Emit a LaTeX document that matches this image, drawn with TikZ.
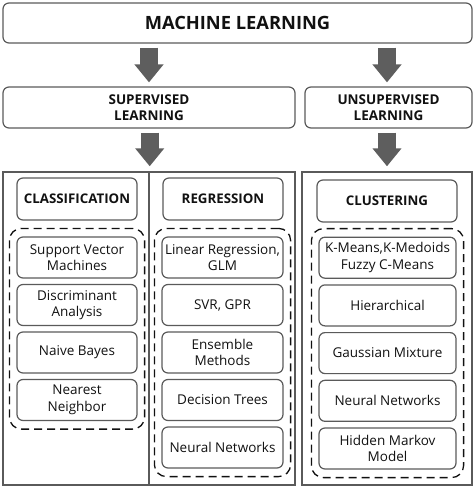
\documentclass[tikz,border=0pt]{standalone}
\usepackage{fontspec}
\setmainfont{Open Sans}
\usetikzlibrary{arrows.meta,fit}
\definecolor{linegray}{HTML}{5A5A5A}
\definecolor{arrowgray}{HTML}{5E5E5E}
\definecolor{textblack}{HTML}{111111}
\newcommand{\itemfont}{\fontsize{13.5}{16.5}\selectfont}

\tikzset{
  box/.style={draw=linegray, line width=1.2pt, rounded corners=6pt,
    align=center, inner sep=0pt, text=textblack},
  itembox/.style={box, minimum height=41pt, font=\itemfont},
  headbox/.style={box, minimum height=42pt, font=\fontsize{13.3}{16}\selectfont\bfseries},
  panel/.style={draw=linegray, line width=1.4pt, inner sep=0pt, minimum height=313pt},
  dashbox/.style={draw=textblack, line width=1.3pt, dash pattern=on 8pt off 5pt,
    rounded corners=12pt, inner xsep=7pt, inner ysep=8pt},
  bigarrow/.style={arrowgray, line width=18pt,
    -{Triangle[length=18pt,width=28pt]}, shorten <=4pt, shorten >=4pt}
}

\begin{document}
\begin{tikzpicture}[x=1pt,y=-1pt]
  \useasboundingbox (0,0) rectangle (474,487);

  % top levels
  \node[box, minimum width=469pt, minimum height=40pt,
    font=\fontsize{18.3}{20}\selectfont\bfseries] (ml) at (237.5,23) {MACHINE LEARNING};
  \node[box, minimum width=292pt, minimum height=41pt,
    font=\fontsize{13.5}{16.5}\selectfont\bfseries] (sup) at (149,107.5) {SUPERVISED\\LEARNING};
  \node[box, minimum width=167pt, minimum height=41pt,
    font=\fontsize{13.5}{16.5}\selectfont\bfseries] (unsup) at (388.5,107.5) {UNSUPERVISED\\LEARNING};

  % panels
  \node[panel, minimum width=146pt] (clspanel) at (76,328.5) {};
  \node[panel, minimum width=146pt] (regpanel) at (222,328.5) {};
  \node[panel, minimum width=170pt] (clupanel) at (387,328.5) {};

  % arrows
  \draw[bigarrow] (ml.south -| sup.north) -- (sup.north);
  \draw[bigarrow] (ml.south -| clupanel.north) -- (unsup.north -| clupanel.north);
  \draw[bigarrow, shorten >=5pt] (sup.south -| clspanel.north east) -- (clspanel.north east);
  \draw[bigarrow, shorten >=5pt] (unsup.south -| clupanel.north) -- (clupanel.north);

  % headers
  \node[headbox, minimum width=120pt] (clshead) at (77,199) {CLASSIFICATION};
  \node[headbox, minimum width=120pt] (reghead) at (223,199) {REGRESSION};
  \node[headbox, minimum width=140pt] (cluhead) at (387,201) {CLUSTERING};

  % methods
  \foreach \txt [count=\i] in {{Support Vector\\Machines}, {Discriminant\\Analysis},
      {Naive Bayes}, {Nearest\\Neighbor}}
    \node[itembox, minimum width=120pt] (cls\i) at (77,210+47.5*\i) {\txt};
  \foreach \txt [count=\i] in {{Linear Regression,\\GLM}, {SVR, GPR},
      {Ensemble\\Methods}, {Decision Trees}, {Neural Networks}}
    \node[itembox, minimum width=121pt] (reg\i) at (222.5,210+47.5*\i) {\txt};
  \foreach \txt [count=\i] in {{K-Means,K-Medoids\\Fuzzy C-Means}, {Hierarchical},
      {Gaussian Mixture}, {Neural Networks}, {Hidden Markov\\Model}}
    \node[itembox, minimum width=137pt] (clu\i) at (387.5,210+47.7*\i) {\txt};

  % dashed groups
  \node[dashbox, fit=(cls1)(cls4)] (clsgroup) {};
  \node[dashbox, fit=(reg1)(reg5)] (reggroup) {};
  \node[dashbox, fit=(clu1)(clu5)] (clugroup) {};
\end{tikzpicture}
\end{document}
